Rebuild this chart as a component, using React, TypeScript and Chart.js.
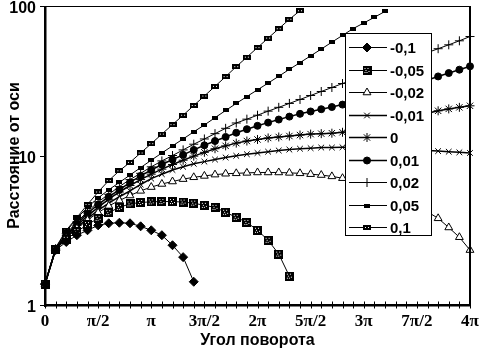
import React, { useEffect, useRef } from 'react';
import { Chart, registerables } from 'chart.js';
import { drawPoint } from 'chart.js/helpers';

Chart.register(...registerables);

// x categories: rotation angle in units of π (step π/10)
const anglesInPi = [
  0, 0.1, 0.2, 0.3, 0.4, 0.5, 0.6, 0.7, 0.8, 0.9,
  1.0, 1.1, 1.2, 1.3, 1.4, 1.5, 1.6, 1.7, 1.8, 1.9,
  2.0, 2.1, 2.2, 2.3, 2.4, 2.5, 2.6, 2.7, 2.8, 2.9,
  3.0, 3.1, 3.2, 3.3, 3.4, 3.5, 3.6, 3.7, 3.8, 3.9, 4.0,
];
const xTickLabels = ['0', 'π/2', 'π', '3π/2', '2π', '5π/2', '3π', '7π/2', '4π'];
const yTicks = [1, 10, 100];
const yTickLabels = ['1', '10', '100'];
const xTitle = 'Угол поворота';
const yTitle = 'Расстояние от оси';

const seriesNames = ['-0,1', '-0,05', '-0,02', '-0,01', '0', '0,01', '0,02', '0,05', '0,1'];

const sMinus010 = [1.38, 2.33, 2.64, 2.93, 3.16, 3.41, 3.52, 3.55, 3.52, 3.36, 3.16, 2.93, 2.51, 2.09, 1.43];
const sMinus005 = [1.38, 2.35, 2.75, 3.1, 3.45, 3.8, 4.15, 4.5, 4.75, 4.85, 4.9, 4.92, 4.92, 4.88, 4.8, 4.64, 4.5, 4.17, 3.86, 3.57, 3.16, 2.71, 2.19, 1.56];
const sMinus002 = [1.38, 2.35, 2.8, 3.25, 3.7, 4.15, 4.6, 5.0, 5.4, 5.8, 6.15, 6.45, 6.7, 6.95, 7.15, 7.3, 7.45, 7.55, 7.6, 7.65, 7.7, 7.7, 7.7, 7.65, 7.6, 7.5, 7.4, 7.25, 7.05, 6.8, 6.5, 6.15, 5.8, 5.4, 5.0, 4.6, 4.2, 3.8, 3.3, 2.84, 2.33];
const sMinus001 = [1.38, 2.35, 2.85, 3.3, 3.8, 4.3, 4.8, 5.3, 5.8, 6.4, 7.0, 7.5, 8.0, 8.4, 8.8, 9.1, 9.4, 9.7, 9.95, 10.2, 10.4, 10.6, 10.8, 10.95, 11.1, 11.2, 11.3, 11.3, 11.35, 11.35, 11.3, 11.25, 11.2, 11.1, 11.0, 10.9, 10.8, 10.7, 10.6, 10.5, 10.4];
const sZero = [1.38, 2.36, 2.9, 3.4, 3.95, 4.5, 5.1, 5.7, 6.3, 6.9, 7.5, 8.1, 8.7, 9.3, 9.9, 10.5, 11.1, 11.6, 12.1, 12.5, 12.8, 13.1, 13.3, 13.5, 13.7, 13.9, 14.0, 14.1, 14.3, 14.6, 15.0, 15.5, 16.1, 16.8, 17.6, 18.4, 19.2, 19.9, 20.5, 21.0, 21.5];
const sPlus001 = [1.38, 2.37, 2.95, 3.5, 4.1, 4.7, 5.3, 5.9, 6.6, 7.3, 8.0, 8.7, 9.4, 10.1, 10.9, 11.7, 12.5, 13.3, 14.2, 15.0, 15.8, 16.6, 17.4, 18.2, 19.0, 19.7, 20.4, 21.1, 21.9, 22.7, 23.6, 24.6, 25.7, 27.0, 28.5, 30.2, 32.0, 33.8, 35.6, 37.5, 39.5];
const sPlus002 = [1.38, 2.38, 3.0, 3.6, 4.2, 4.9, 5.5, 6.2, 6.9, 7.6, 8.4, 9.2, 10.0, 10.9, 11.9, 12.9, 14.0, 15.2, 16.5, 17.5, 18.6, 19.8, 21.0, 22.3, 23.7, 25.2, 26.8, 28.5, 30.3, 32.2, 34.2, 36.3, 38.5, 40.9, 43.4, 46.0, 48.8, 51.8, 55.0, 58.5, 62.5];
const sPlus005 = [1.38, 2.4, 3.1, 3.8, 4.5, 5.2, 5.9, 6.6, 7.4, 8.3, 9.3, 10.4, 11.6, 12.9, 14.4, 16.0, 17.9, 20.0, 22.3, 24.8, 27.5, 30.5, 33.9, 37.7, 41.8, 46.4, 51.5, 57.3, 63.6, 70.6, 77.0, 84.0, 92.0];
const sPlus010 = [1.38, 2.42, 3.16, 3.85, 4.7, 5.7, 6.8, 7.9, 9.0, 10.4, 12.0, 13.9, 16.1, 18.6, 21.6, 25.0, 29.0, 33.7, 39.3, 45.5, 52.7, 61.0, 70.5, 81.5, 93.0];

const seriesValues = [sMinus010, sMinus005, sMinus002, sMinus001, sZero, sPlus001, sPlus002, sPlus005, sPlus010];

function makeMarker(w: number, h: number, dots: number[][]) {
  const c = document.createElement('canvas');
  c.width = w;
  c.height = h;
  const g = c.getContext('2d')!;
  g.fillStyle = '#000';
  g.fillRect(0, 0, w, h);
  g.fillStyle = '#fff';
  dots.forEach(([x, y]) => g.fillRect(x, y, 1, 1));
  return c;
}

export default function App() {
  const ref = useRef<HTMLCanvasElement>(null);

  useEffect(() => {
    const sqDotted = makeMarker(9, 9, [[2, 2], [5, 2], [3, 4], [6, 5], [2, 6], [4, 6]]);
    const smallRect = makeMarker(6, 4, []);
    const smallDotted = makeMarker(8, 5, [[2, 2], [5, 2]]);

    const styles: any[] = [
      { pointStyle: 'rectRot', pointRadius: 4.5, pointBackgroundColor: '#000', borderWidth: 1 },
      { pointStyle: sqDotted, pointRadius: 4.5, pointBackgroundColor: '#000', borderWidth: 1 },
      { pointStyle: 'triangle', pointRadius: 4.5, pointBackgroundColor: '#fff', borderWidth: 1 },
      { pointStyle: 'crossRot', pointRadius: 4, pointBackgroundColor: '#000', borderWidth: 1.5 },
      { pointStyle: 'star', pointRadius: 4.5, pointBackgroundColor: '#000', borderWidth: 1.5 },
      { pointStyle: 'circle', pointRadius: 3.5, pointBackgroundColor: '#000', borderWidth: 1.5 },
      { pointStyle: 'cross', pointRadius: 4.5, pointBackgroundColor: '#000', borderWidth: 1 },
      { pointStyle: smallRect, pointRadius: 3, pointBackgroundColor: '#000', borderWidth: 1 },
      { pointStyle: smallDotted, pointRadius: 3, pointBackgroundColor: '#000', borderWidth: 1 },
    ];

    const datasets = seriesValues.map((vals, i) => ({
      label: seriesNames[i],
      data: vals,
      borderColor: '#000',
      borderWidth: styles[i].borderWidth,
      pointStyle: styles[i].pointStyle,
      pointRadius: styles[i].pointRadius,
      pointBackgroundColor: styles[i].pointBackgroundColor,
      pointBorderColor: '#000',
      pointBorderWidth: 1,
      tension: 0,
      fill: false,
    }));

    const framePlugin = {
      id: 'frameAndLegend',
      afterDatasetsDraw(chart: any) {
        const { ctx, chartArea: a, scales } = chart;
        ctx.save();
        ctx.fillStyle = '#000';
        ctx.strokeStyle = '#000';
        // frame
        ctx.fillRect(a.left, a.top, a.right - a.left, 1);
        ctx.fillRect(a.right - 1, a.top, 2, a.bottom - a.top + 1);
        ctx.fillRect(a.left - 1, a.top, 2.5, a.bottom - a.top + 2);
        ctx.fillRect(a.left - 1, a.bottom - 1, a.right - a.left + 2, 2.5);
        // x tick marks crossing the axis
        const xs = scales.x;
        ctx.lineWidth = 1;
        ctx.beginPath();
        for (let i = 0; i < xs.ticks.length; i++) {
          const px = Math.round(xs.getPixelForTick(i)) + 0.5;
          ctx.moveTo(px, a.bottom - 3.5);
          ctx.lineTo(px, a.bottom + 3.5);
        }
        ctx.stroke();
        // y tick marks
        const ys = scales.y;
        ctx.beginPath();
        yTicks.forEach((v) => {
          const py = Math.round(ys.getPixelForValue(v)) + 0.5;
          ctx.moveTo(a.left - 5, py);
          ctx.lineTo(a.left, py);
        });
        ctx.stroke();

        // legend box
        const L = 345, T = 33, R = 431, B = 235;
        ctx.fillStyle = '#fff';
        ctx.fillRect(L, T, R - L, B - T);
        ctx.strokeStyle = '#000';
        ctx.lineWidth = 1;
        ctx.strokeRect(L + 0.5, T + 0.5, R - L, B - T);
        ctx.font = 'bold 15px "Liberation Sans", Arial, sans-serif';
        ctx.textBaseline = 'middle';
        ctx.textAlign = 'left';
        chart.data.datasets.forEach((ds: any, i: number) => {
          const y = Math.round(T + 14 + i * 22.5) + 0.5;
          ctx.strokeStyle = '#000';
          ctx.lineWidth = ds.borderWidth;
          ctx.beginPath();
          ctx.moveTo(349, y);
          ctx.lineTo(387, y);
          ctx.stroke();
          ctx.fillStyle = ds.pointBackgroundColor;
          ctx.strokeStyle = '#000';
          ctx.lineWidth = 1;
          drawPoint(ctx, { pointStyle: ds.pointStyle, radius: ds.pointRadius, borderWidth: ds.pointStyle === 'crossRot' || ds.pointStyle === 'star' || ds.pointStyle === 'circle' ? 1.5 : 1, rotation: 0 } as any, 367, y);
          ctx.fillStyle = '#000';
          ctx.fillText(ds.label, 390, y + 1);
        });
        ctx.restore();
      },
    };

    const chart = new Chart(ref.current!, {
      type: 'line',
      data: { labels: anglesInPi.map(String), datasets },
      options: {
        animation: false,
        responsive: false,
        events: [],
        layout: { padding: { top: 6, right: 9, left: 0, bottom: 0 } },
        plugins: { legend: { display: false }, tooltip: { enabled: false } },
        scales: {
          x: {
            type: 'category',
            offset: false,
            grid: { display: false, drawTicks: false, tickLength: 0 },
            border: { display: false },
            ticks: {
              autoSkip: false,
              maxRotation: 0,
              minRotation: 0,
              padding: 6,
              color: '#000',
              font: { family: '"Liberation Serif", "Times New Roman", serif', size: 17, weight: 'bold' },
              callback: (_v: any, idx: number) => (idx % 5 === 0 ? xTickLabels[idx / 5] : ''),
            },
            title: {
              display: true,
              text: xTitle,
              color: '#000',
              padding: { top: 0, bottom: 3 },
              font: { family: '"Liberation Sans", Arial, sans-serif', size: 16, weight: 'bold' },
            },
            afterFit: (s: any) => {
              s.height = 48;
              s.paddingLeft = 0;
              s.paddingRight = 0;
            },
          },
          y: {
            type: 'logarithmic',
            min: 1,
            max: 100,
            grid: { display: false, drawTicks: false, tickLength: 0 },
            border: { display: false },
            afterBuildTicks: (s: any) => {
              s.ticks = yTicks.map((v) => ({ value: v }));
            },
            ticks: {
              padding: 9,
              labelOffset: 3,
              color: '#000',
              font: { family: '"Liberation Sans", Arial, sans-serif', size: 16, weight: 'bold' },
              callback: (v: any) => {
                const k = yTicks.indexOf(Number(v));
                return k >= 0 ? yTickLabels[k] : '';
              },
            },
            title: {
              display: true,
              text: yTitle,
              color: '#000',
              padding: { top: 5, bottom: 0 },
              font: { family: '"Liberation Sans", Arial, sans-serif', size: 16, weight: 'bold' },
            },
            afterFit: (s: any) => {
              s.width = 45;
              s.paddingTop = 0;
              s.paddingBottom = 0;
            },
          },
        },
      },
      plugins: [framePlugin],
    } as any);
    return () => chart.destroy();
  }, []);

  return (
    <div style={{ position: 'fixed', left: 0, top: 0, width: 479, height: 353, background: '#fff' }}>
      <canvas ref={ref} width={479} height={353} style={{ width: 479, height: 353, display: 'block' }} />
    </div>
  );
}
